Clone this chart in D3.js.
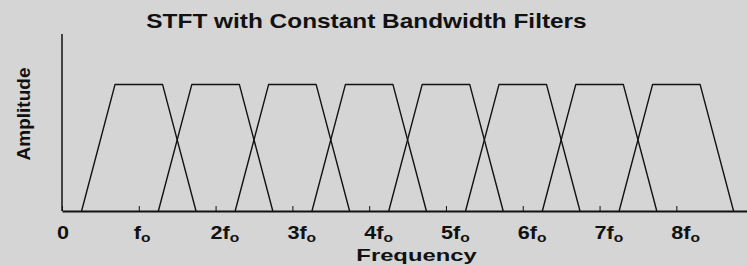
<!DOCTYPE html>
<html>
<head>
<meta charset="utf-8">
<script src="https://cdn.jsdelivr.net/npm/d3@7"></script>
<style>
 body { margin: 0; background: #d4d5d4; }
 text { font-family: "Liberation Sans", Arial, sans-serif; font-weight: bold; fill: #111; }
</style>
</head>
<body>
<script>
const width = 747;
const height = 266;

// filter centres (multiples of fo) and their pass-band gain
const centers = [1, 2, 3, 4, 5, 6, 7, 8];
const gains = [1, 1, 1, 1, 1, 1, 1, 1];
// half widths of each filter, in units of fo
const baseHalfWidth = 0.745;
const topHalfWidth = 0.31;

const tickValues = [0, 1, 2, 3, 4, 5, 6, 7, 8];
const tickLabels = ["0", "f", "2f", "3f", "4f", "5f", "6f", "7f", "8f"];
const tickSubs = ["", "o", "o", "o", "o", "o", "o", "o", "o"];

const x = d3.scaleLinear().domain([0, 8.92]).range([62, 747]);
const y = d3.scaleLinear().domain([0, 1.4]).range([211, 34]);

const svg = d3.select("body")
	.append("svg")
		.attr("width", width)
		.attr("height", height);

// trapezoid filters
function getTrapezoid(c, g)
{
 return [
	[c - baseHalfWidth, 0],
	[c - topHalfWidth, g],
	[c + topHalfWidth, g],
	[c + baseHalfWidth, 0]
 ];
}

const line = d3.line().x(d => x(d[0])).y(d => y(d[1]));

svg.append("g")
	.selectAll("path")
		.data(centers.map((c, i) => getTrapezoid(c, gains[i])))
			.join("path")
				.attr("d", line)
				.attr("fill", "none")
				.attr("stroke", "#121212")
				.attr("stroke-width", 1.4)
				.attr("stroke-linejoin", "round");

// y axis: bare line
svg.append("line")
	.attr("x1", x(0)).attr("x2", x(0))
	.attr("y1", y(0)).attr("y2", y(1.4))
	.attr("stroke", "#121212")
	.attr("stroke-width", 1.5);

// x axis with small inward ticks
const xAxis = d3.axisBottom(x)
	.tickValues(tickValues)
	.tickSizeInner(-5)
	.tickSizeOuter(0)
	.tickFormat("");

const gx = svg.append("g")
	.attr("transform", "translate(0," + y(0) + ")")
	.call(xAxis);
gx.select(".domain").attr("stroke", "#121212").attr("stroke-width", 2);
gx.selectAll(".tick line").attr("stroke", "#121212").attr("stroke-width", 1);

// tick labels, "f" with a small "o" subscript
const labels = svg.append("g")
	.selectAll("text")
		.data(tickValues)
			.join("text")
				.attr("transform", d => "translate(" + (x(d) - 5) + ",239) scale(1.2,1)")
				.attr("font-size", 18);
labels.append("tspan").text((d, i) => tickLabels[i]);
labels.append("tspan")
	.attr("font-size", 13)
	.attr("dy", 3)
	.text((d, i) => tickSubs[i]);

// title
svg.append("text")
	.attr("transform", "translate(366.5,28) scale(1.22,1)")
	.attr("text-anchor", "middle")
	.attr("font-size", 20)
	.text("STFT with Constant Bandwidth Filters");

// axis titles
svg.append("text")
	.attr("transform", "translate(416.5,261) scale(1.4,1)")
	.attr("text-anchor", "middle")
	.attr("font-size", 17)
	.text("Frequency");

svg.append("text")
	.attr("transform", "translate(30,114) rotate(-90)")
	.attr("text-anchor", "middle")
	.attr("font-size", 19)
	.text("Amplitude");
</script>
</body>
</html>
